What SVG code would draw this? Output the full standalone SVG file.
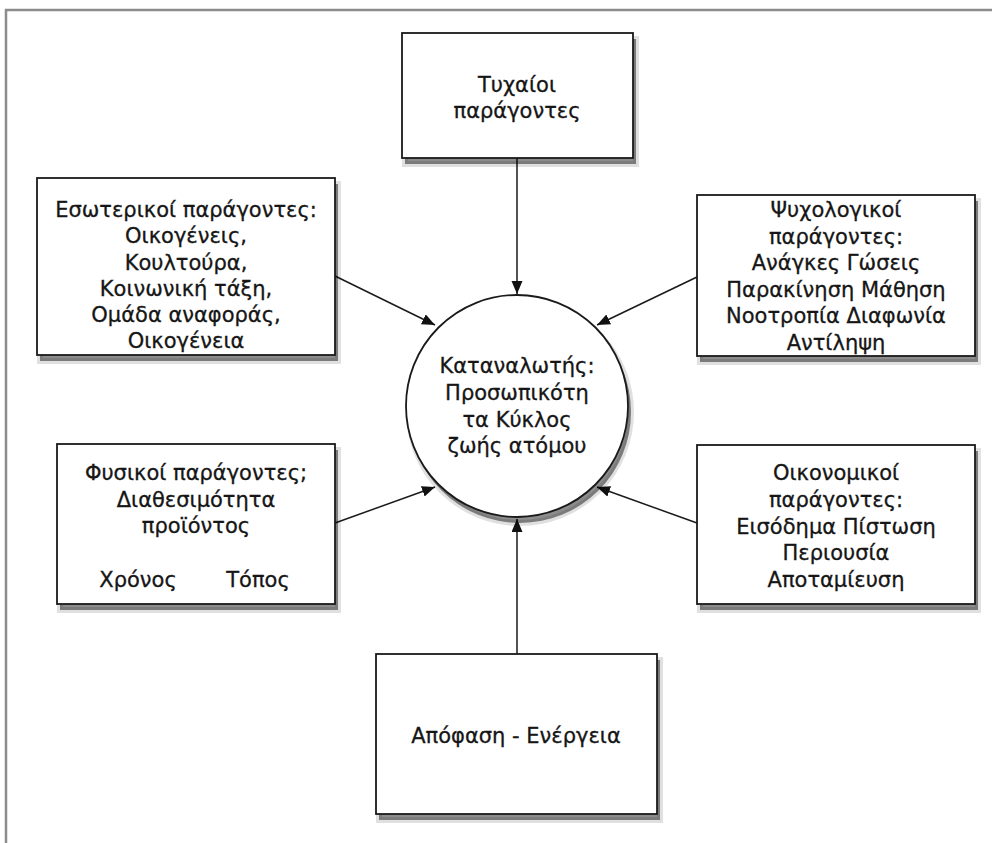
<svg xmlns="http://www.w3.org/2000/svg" width="992" height="843" viewBox="0 0 992 843">
<style>
.box{fill:#fff;stroke:#1a1a1a;stroke-width:1.8}
.shd{fill:#000;fill-opacity:0.45;stroke:#000;stroke-opacity:0.12;stroke-width:6}
.shd2{fill:none;stroke:#000;stroke-opacity:0.12;stroke-width:2.5}
.t{font-family:"DejaVu Sans","Liberation Sans",sans-serif;font-size:21px;fill:#161616;stroke:#161616;stroke-width:0.3;text-anchor:middle}
.con{stroke:#1a1a1a;stroke-width:1.5;fill:none;marker-end:url(#ah)}
</style>
<defs>
<marker id="ah" markerUnits="userSpaceOnUse" markerWidth="14" markerHeight="12" refX="13" refY="5.5" orient="auto">
<path d="M0,0 L13,5.5 L0,11 z" fill="#111"/>
</marker>
</defs>
<rect width="992" height="843" fill="#fff"/>
<rect x="6" y="10" width="1000" height="900" fill="none" stroke="#8c8c8c" stroke-width="2.5"/>
<g id="connectors">
<line class="con" x1="517" y1="158" x2="517" y2="294"/>
<line class="con" x1="335" y1="276" x2="435" y2="325"/>
<line class="con" x1="697" y1="277" x2="597" y2="325"/>
<line class="con" x1="335" y1="523" x2="435" y2="487"/>
<line class="con" x1="697" y1="523" x2="597" y2="487"/>
<line class="con" x1="517" y1="654" x2="517" y2="519"/>
</g>
<g id="n-tyxaioi">
<rect class="shd" x="405" y="39" width="231" height="125"/>
<rect class="box" x="402" y="33" width="231" height="125"/>
<text class="t" x="517" y="92">Τυχαίοι</text>
<text class="t" x="517" y="118">παράγοντες</text>
</g>
<g id="n-esoterikoi">
<rect class="shd" x="40" y="184" width="298" height="177"/>
<rect class="box" x="37" y="178" width="298" height="177"/>
<text class="t" x="186" y="217">Εσωτερικοί παράγοντες:</text>
<text class="t" x="186" y="243">Οικογένεις,</text>
<text class="t" x="186" y="269.5">Κουλτούρα,</text>
<text class="t" x="186" y="296">Κοινωνική τάξη,</text>
<text class="t" x="186" y="322">Ομάδα αναφοράς,</text>
<text class="t" x="186" y="348">Οικογένεια</text>
</g>
<g id="n-psyxologikoi">
<rect class="shd" x="700" y="201" width="278" height="161"/>
<rect class="box" x="697" y="195" width="278" height="161"/>
<text class="t" x="836" y="217">Ψυχολογικοί</text>
<text class="t" x="836" y="243.6">παράγοντες:</text>
<text class="t" x="836" y="270.2">Ανάγκες Γώσεις</text>
<text class="t" x="836" y="296.8">Παρακίνηση Μάθηση</text>
<text class="t" x="836" y="323.4">Νοοτροπία Διαφωνία</text>
<text class="t" x="836" y="350">Αντίληψη</text>
</g>
<g id="n-katanalotis">
<circle class="shd" cx="520" cy="412" r="111"/>
<circle class="box" cx="517" cy="406" r="111"/>
<text class="t" x="517" y="373">Καταναλωτής:</text>
<text class="t" x="517" y="400">Προσωπικότη</text>
<text class="t" x="517" y="427">τα Κύκλος</text>
<text class="t" x="517" y="453">ζωής ατόμου</text>
</g>
<g id="n-fysikoi">
<rect class="shd" x="60" y="450" width="278" height="160"/>
<rect class="box" x="57" y="444" width="278" height="160"/>
<text class="t" x="196" y="480">Φυσικοί παράγοντες;</text>
<text class="t" x="196" y="506.7">Διαθεσιμότητα</text>
<text class="t" x="196" y="533.4">προϊόντος</text>
<text class="t" x="138" y="587">Χρόνος</text>
<text class="t" x="258" y="587">Τόπος</text>
</g>
<g id="n-oikonomikoi">
<rect class="shd" x="700" y="451" width="278" height="159"/>
<rect class="box" x="697" y="445" width="278" height="159"/>
<text class="t" x="836" y="480">Οικονομικοί</text>
<text class="t" x="836" y="507">παράγοντες:</text>
<text class="t" x="836" y="534">Εισόδημα Πίστωση</text>
<text class="t" x="836" y="560">Περιουσία</text>
<text class="t" x="836" y="587">Αποταμίευση</text>
</g>
<g id="n-apofasi">
<rect class="shd" x="379" y="660" width="281" height="160"/>
<rect class="box" x="376" y="654" width="281" height="160"/>
<text class="t" x="516" y="743">Απόφαση - Ενέργεια</text>
</g>
</svg>
